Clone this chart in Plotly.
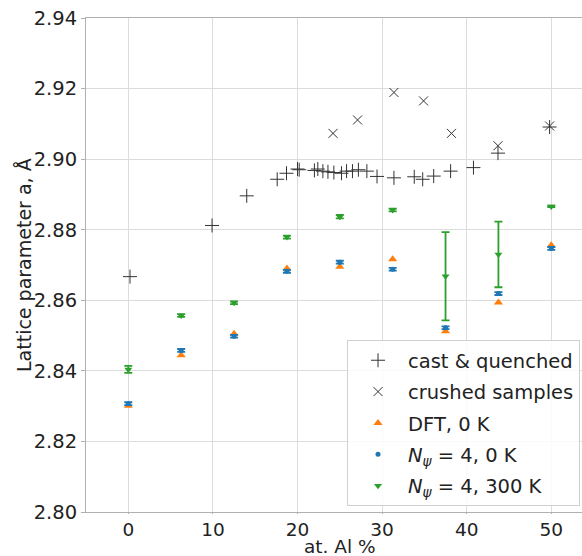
import plotly.graph_objects as go

# cast & quenched
cast_x = [0.2, 9.9, 14.0, 17.6, 18.7, 20.0, 20.2, 22.0, 22.4, 23.0, 23.6, 24.3, 25.2, 25.8, 26.5,
          27.2, 28.2, 29.4, 31.4, 33.8, 34.8, 36.1, 38.1, 40.8, 43.7, 49.8]
cast_y = [2.8667, 2.8812, 2.8896, 2.8943, 2.8960, 2.8972, 2.8970, 2.8968, 2.8972, 2.8966, 2.8964,
          2.8962, 2.8960, 2.8966, 2.8966, 2.8970, 2.8966, 2.8951, 2.8947, 2.8950, 2.8943, 2.8952,
          2.8966, 2.8976, 2.9017, 2.9091]

# crushed samples
crush_x = [24.2, 27.1, 31.4, 34.9, 38.2, 43.7, 49.8]
crush_y = [2.9073, 2.9111, 2.9189, 2.9165, 2.9073, 2.9038, 2.9094]

# simulation compositions
comp_x = [0, 6.25, 12.5, 18.75, 25, 31.25, 37.5, 43.75, 50]
dft_y = [2.8301, 2.8444, 2.8505, 2.8690, 2.8695, 2.8716, 2.8512, 2.8594, 2.8756]
n0_y = [2.8307, 2.8458, 2.8498, 2.8682, 2.8708, 2.8688, 2.8522, 2.8619, 2.8747]
n0_err = [0.0004, 0.0004, 0.0004, 0.0004, 0.0004, 0.0004, 0.0004, 0.0004, 0.0004]
n300_y = [2.8404, 2.8557, 2.8593, 2.8779, 2.8837, 2.8856, 2.8668, 2.8730, 2.8866]
n300_err = [0.0010, 0.0004, 0.0004, 0.0004, 0.0005, 0.0004, 0.0125, 0.0093, 0.0002]

y_ticks = [2.80, 2.82, 2.84, 2.86, 2.88, 2.90, 2.92, 2.94]
x_ticks = [0, 10, 20, 30, 40, 50]

FONT = "DejaVu Sans"
FS = 19.5
fig = go.Figure()
fig.add_trace(go.Scatter(x=cast_x, y=cast_y, mode="markers", name="cast &amp; quenched",
                         legendgroup="a",
                         marker=dict(symbol="cross-thin-open", size=10, color="#333333",
                                     line=dict(width=1, color="#333333"))))
fig.add_trace(go.Scatter(x=crush_x, y=crush_y, mode="markers", name="crushed samples",
                         legendgroup="b",
                         marker=dict(symbol="x-thin-open", size=9, color="#333333",
                                     line=dict(width=1, color="#333333"))))
fig.add_trace(go.Scatter(x=comp_x, y=dft_y, mode="markers", name="DFT, 0 K",
                         legendgroup="c",
                         marker=dict(symbol="triangle-up", size=8, color="#ff7f0e")))
fig.add_trace(go.Scatter(x=comp_x, y=n0_y, mode="markers",
                         name="<i>N</i><sub><i>ψ</i></sub> = 4, 0 K",
                         legendgroup="d",
                         marker=dict(symbol="circle", size=5, color="#1f77b4"),
                         error_y=dict(type="data", array=n0_err, visible=True, color="#1f77b4",
                                      thickness=1.8, width=4)))
fig.add_trace(go.Scatter(x=comp_x, y=n300_y, mode="markers",
                         name="<i>N</i><sub><i>ψ</i></sub> = 4, 300 K",
                         legendgroup="e",
                         marker=dict(symbol="triangle-down", size=7, color="#2ca02c"),
                         error_y=dict(type="data", array=n300_err, visible=True, color="#2ca02c",
                                      thickness=1.8, width=4)))

fig.update_layout(
    width=582, height=556,
    margin=dict(l=86, r=0, t=18, b=44),
    paper_bgcolor="white", plot_bgcolor="white",
    font=dict(family=FONT, size=FS, color="#222222"),
    showlegend=True,
    legend=dict(x=0.996, y=0.012, xanchor="right", yanchor="bottom",
                bgcolor="rgba(255,255,255,0.85)", bordercolor="#d0d0d0", borderwidth=1,
                font=dict(family=FONT, size=FS, color="#222222"),
                tracegroupgap=3, itemwidth=50),
    xaxis=dict(range=[-5.0, 53.63], tickvals=x_ticks, showgrid=True, gridcolor="#dcdcdc",
               gridwidth=1, zeroline=False, showline=True, linecolor="#b0b0b0", linewidth=1,
               mirror=True, ticks="outside", ticklen=1, tickcolor="#b0b0b0",
               tickfont=dict(size=18.5)),
    yaxis=dict(range=[2.80, 2.94], tickvals=y_ticks, tickformat=".2f", showgrid=True,
               gridcolor="#dcdcdc", gridwidth=1, zeroline=False, showline=True,
               linecolor="#b0b0b0", linewidth=1, ticks="outside", ticklen=4,
               tickcolor="#b0b0b0", tickfont=dict(size=FS)),
    annotations=[
        dict(text="at. Al %", xref="paper", yref="paper", x=(340 - 86) / 496,
             y=-(546 - 512) / 494, xanchor="center", yanchor="middle", showarrow=False,
             font=dict(family=FONT, size=18.5, color="#222222")),
        dict(text="Lattice parameter a, Å", xref="paper", yref="paper", x=-(86 - 24) / 496,
             y=0.5, xanchor="center", yanchor="middle", textangle=-90, showarrow=False,
             font=dict(family=FONT, size=19, color="#222222")),
    ],
)

fig.write_html("out.html")
